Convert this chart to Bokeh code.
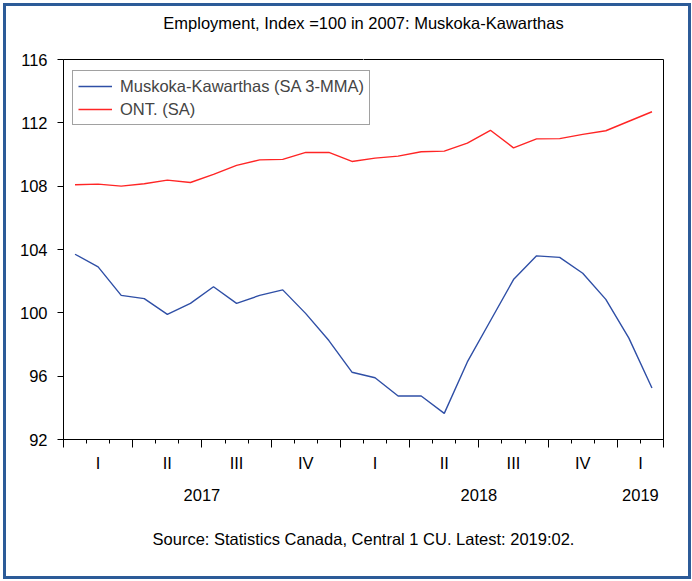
from bokeh.plotting import figure
from bokeh.models import (ColumnDataSource, Range1d, FixedTicker, Legend, LegendItem,
                          LinearAxis, Title)
from bokeh.embed import file_html
from bokeh.resources import INLINE

# ---- data (monthly, Jan 2017 .. Feb 2019) ----
months = ["2017-01", "2017-02", "2017-03", "2017-04", "2017-05", "2017-06",
          "2017-07", "2017-08", "2017-09", "2017-10", "2017-11", "2017-12",
          "2018-01", "2018-02", "2018-03", "2018-04", "2018-05", "2018-06",
          "2018-07", "2018-08", "2018-09", "2018-10", "2018-11", "2018-12",
          "2019-01", "2019-02"]
muskoka = [103.7, 102.9, 101.1, 100.9, 99.9, 100.6, 101.65, 100.6, 101.1, 101.45,
           99.95, 98.25, 96.25, 95.9, 94.75, 94.75, 93.65, 96.9, 99.5, 102.1,
           103.6, 103.5, 102.5, 100.85, 98.4, 95.25]
ontario = [108.09, 108.13, 108.0, 108.15, 108.38, 108.23, 108.74, 109.31, 109.66, 109.69,
           110.13, 110.13, 109.56, 109.77, 109.9, 110.17, 110.21, 110.72, 111.53, 110.42,
           110.99, 111.0, 111.27, 111.5, 112.1, 112.7]
quarter_labels = ["I", "II", "III", "IV", "I", "II", "III", "IV", "I"]
year_labels = ["2017", "2018", "2019"]
y_ticks = [92, 96, 100, 104, 108, 112, 116]

title_text = "Employment, Index =100 in 2007: Muskoka-Kawarthas"
source_text = "Source: Statistics Canada, Central 1 CU. Latest: 2019:02."
series_names = ["Muskoka-Kawarthas (SA 3-MMA)", "ONT. (SA)"]

FONT = "Liberation Sans"
FS = "16.5px"
n = len(months)
xs = [i + 0.5 for i in range(n)]
src = ColumnDataSource(dict(x=xs, m=muskoka, o=ontario))

p = figure(width=688, height=576, output_backend="svg", toolbar_location=None,
           x_range=Range1d(0, n), y_range=Range1d(92, 116),
           min_border_left=57, min_border_right=31, min_border_top=53,
           min_border_bottom=143)
p.styles = {"border": "3px solid #2c5b98", "margin": "3px 0px 0px 3px"}
p.outline_line_color = "black"
p.outline_line_width = 1
p.grid.visible = False
p.background_fill_color = "white"
p.border_fill_color = "white"
p.title.text = ""

# y axis
ya = p.yaxis[0]
ya.ticker = FixedTicker(ticks=y_ticks)
ya.major_tick_in = 0
ya.major_tick_out = 6
ya.minor_tick_in = 0
ya.minor_tick_out = 0
ya.major_label_text_font = FONT
ya.major_label_text_font_size = FS
ya.major_label_text_color = "black"
ya.axis_line_color = "black"
ya.major_tick_line_color = "black"
ya.major_label_standoff = 10

# x axis: quarterly major ticks, monthly minor ticks (labels on separate axes)
xa = p.xaxis[0]
xa.ticker = FixedTicker(ticks=list(range(0, n, 3)) + [n], minor_ticks=list(range(0, n + 1)))
xa.major_tick_in = 0
xa.major_tick_out = 8
xa.minor_tick_in = 0
xa.minor_tick_out = 4
xa.major_label_text_font_size = "0px"
xa.major_label_text_color = None
xa.major_label_standoff = 0
xa.axis_line_color = "black"
xa.major_tick_line_color = "black"
xa.minor_tick_line_color = "black"

# quarter labels centred within each visible quarter
q_pos = [(a + min(a + 3, n)) / 2 for a in range(0, n, 3)]
qa = LinearAxis(ticker=FixedTicker(ticks=q_pos, minor_ticks=[]),
                major_label_overrides={q: lab for q, lab in zip(q_pos, quarter_labels)})
# year labels centred within each visible year
y_pos = [(a + min(a + 12, n)) / 2 for a in range(0, n, 12)]
yra = LinearAxis(ticker=FixedTicker(ticks=y_pos, minor_ticks=[]),
                 major_label_overrides={q: lab for q, lab in zip(y_pos, year_labels)})
for ax, so in ((qa, 6), (yra, 14)):
    ax.axis_line_color = None
    ax.major_tick_line_color = None
    ax.minor_tick_line_color = None
    ax.major_tick_out = 0
    ax.major_tick_in = 0
    ax.major_label_standoff = so
    ax.major_label_text_font = FONT
    ax.major_label_text_font_size = FS
    ax.major_label_text_color = "black"
    p.add_layout(ax, "below")

src_title = Title(text=source_text, align="center", text_font=FONT, text_font_size=FS,
                  text_font_style="normal", text_color="black", standoff=48)
p.add_layout(src_title, "below")

# invisible spacer axis between frame and the chart title (white tick, no label)
spacer = LinearAxis(ticker=FixedTicker(ticks=[n / 2], minor_ticks=[]),
                    axis_line_color=None, major_tick_line_color="white",
                    minor_tick_line_color=None, major_tick_out=26, major_tick_in=0,
                    major_label_text_font_size="0px", major_label_text_color=None,
                    major_label_standoff=0)
p.add_layout(spacer, "above")
main_title = Title(text=title_text, align="center", text_font=FONT, text_font_size=FS,
                   text_font_style="normal", text_color="black", standoff=4)
p.add_layout(main_title, "above")

r1 = p.line("x", "m", source=src, line_color="#2f4fa6", line_width=1.4)
r2 = p.line("x", "o", source=src, line_color="#ff2525", line_width=1.4)

legend = Legend(items=[LegendItem(label=series_names[0], renderers=[r1]),
                       LegendItem(label=series_names[1], renderers=[r2])],
                location=(9, 314), margin=0, padding=5, spacing=3,
                glyph_width=34, glyph_height=20, label_height=20,
                label_text_font=FONT, label_text_font_size=FS,
                label_standoff=8,
                border_line_color="#444444", border_line_width=1,
                background_fill_alpha=1)
p.add_layout(legend)

open("out.html", "w").write(file_html(p, INLINE))
